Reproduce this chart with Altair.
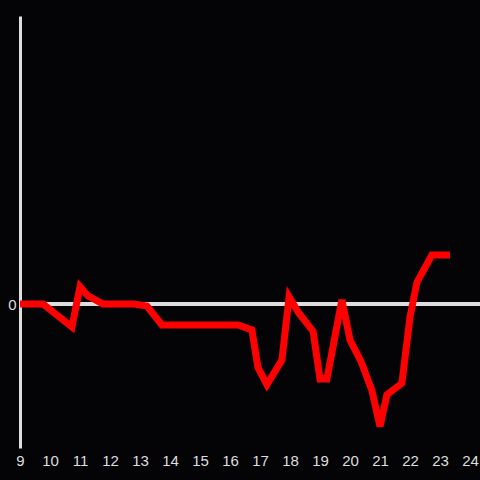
import altair as alt
import pandas as pd

hours = [9.0, 9.77, 10.73, 11.0, 11.27, 11.77, 12.8, 13.23, 13.73, 16.27,
         16.73, 16.93, 17.23, 17.73, 17.97, 18.27, 18.77, 19.0, 19.23, 19.73,
         20.0, 20.37, 20.73, 21.0, 21.23, 21.73, 22.0, 22.23, 22.73, 23.33]
values = [0.0, 0.0, -0.16, 0.12, 0.056, 0.0, 0.0, -0.014, -0.146, -0.146,
          -0.18, -0.44, -0.56, -0.39, 0.05, -0.056, -0.19, -0.52, -0.52, 0.028,
          -0.25, -0.40, -0.60, -0.85, -0.63, -0.55, -0.09, 0.15, 0.34, 0.34]
x_ticks = list(range(9, 25))

df = pd.DataFrame({"hour": hours, "value": values, "order": range(len(hours))})

bg = "#040306"
axis_col = "#dedede"

# dark page background, no page margin (the reference is dark edge to edge)
try:
    import altair.utils.html as _ah
    _orig_tpl = _ah.TEMPLATES["standard"]

    class _DarkPage:
        def render(self, **kw):
            html = _orig_tpl.render(**kw)
            css = ("<style>html,body{margin:0;padding:0;background:%s;overflow:hidden}"
                   "svg{display:block}</style>" % bg)
            if "<head>" in html:
                return html.replace("<head>", "<head>" + css, 1)
            return css + html

    _ah.TEMPLATES["standard"] = _DarkPage()
except Exception:
    pass

rule = alt.Chart(df).mark_rule(color=axis_col, strokeWidth=3).encode(
    y=alt.datum(0)
)

line = alt.Chart(df).mark_line(color="#ff0000", strokeWidth=7, strokeJoin="miter").encode(
    x=alt.X("hour:Q", scale=alt.Scale(domain=[9, 24 + 1/3], nice=False, zero=False),
            axis=alt.Axis(values=x_ticks, title=None, domain=False, ticks=False, grid=False,
                          labelColor=axis_col, labelFontSize=15, labelFont="Liberation Sans",
                          labelPadding=5, labelFlush=False, labelOverlap=False, format="d")),
    y=alt.Y("value:Q", scale=alt.Scale(domain=[-1, 2], nice=False),
            axis=alt.Axis(values=[0], title=None, domain=True, domainColor=axis_col,
                          domainWidth=3, ticks=False, grid=False, labelColor=axis_col,
                          labelFontSize=15, labelFont="Liberation Sans", labelPadding=4,
                          format="d")),
    order="order:Q",
)

chart = alt.layer(rule, line).properties(
    width=460, height=432,
    background=bg,
    autosize=alt.AutoSizeParams(type="none"),
    padding={"left": 20, "top": 16, "right": 0, "bottom": 28},
).configure_view(stroke=None, fill=bg)

chart.save("out.html", embed_options={"renderer": "svg", "actions": False})
